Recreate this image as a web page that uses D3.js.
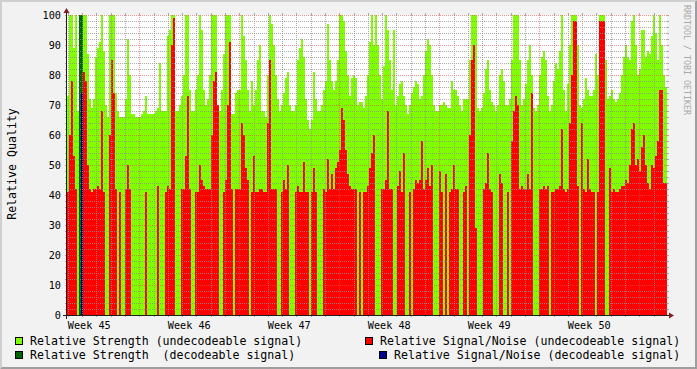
<!DOCTYPE html>
<html><head><meta charset="utf-8">
<script src="https://cdn.jsdelivr.net/npm/d3@7"></script>
<style>body{margin:0;background:#f2f2f2}svg{display:block}</style>
</head><body><svg id="c" width="697" height="369"></svg>
<script>
// ---- data (one sample every 3.36 h, six weeks) ----
const relStrengthUndec = [
73,100,100,89,100,68,99,100,100,100,
87,72,69,72,86,89,91,100,88,70,
66,100,100,100,74,68,66,66,66,72,
92,80,67,67,66,66,66,67,68,73,
67,67,67,67,68,69,84,68,68,68,
93,95,100,100,68,68,70,73,80,100,
100,75,68,68,75,80,100,95,75,70,
72,80,100,100,100,68,68,75,87,100,
100,100,67,67,74,75,75,100,93,85,
75,68,78,70,75,85,90,68,68,66,
80,100,97,90,80,72,68,70,74,79,
81,70,68,68,70,85,89,92,86,72,
65,62,65,81,72,68,68,70,75,78,
97,85,78,75,78,85,100,100,98,88,
80,73,79,80,79,70,71,71,69,73,
80,91,100,90,100,90,80,72,83,100,
95,85,75,95,70,73,77,78,73,70,
67,70,74,76,78,77,72,73,80,88,
92,90,80,70,68,68,70,70,71,70,
69,69,78,75,75,73,70,68,72,72,
72,85,100,100,100,69,68,69,74,82,
85,75,71,70,68,70,80,82,78,70,
70,72,85,100,100,100,85,70,72,77,
85,90,80,69,68,70,80,86,88,85,
73,68,70,78,84,82,88,100,75,68,
77,90,100,100,100,90,70,69,72,79,
75,73,73,75,87,80,100,100,100,85,
72,73,75,72,71,72,74,80,86,90,
86,85,98,100,90,80,82,95,95,86,
88,87,93,100,94,85,100,90,80,76
];
const relSNUndec = [
41,60,78,53,42,0,0,0,81,78,
50,42,41,42,42,43,42,68,41,0,
0,60,85,74,42,0,41,0,0,42,
50,42,0,0,0,0,0,0,0,41,
0,0,0,0,0,43,0,0,0,41,
43,42,90,99,0,0,0,42,42,53,
73,42,0,0,41,41,50,45,43,42,
42,42,60,78,81,70,0,0,41,45,
70,91,42,0,42,42,42,64,60,49,
45,0,41,53,41,41,42,42,41,41,
64,85,42,42,42,0,0,41,45,42,
50,0,0,0,41,43,41,41,51,41,
41,0,41,49,41,0,0,0,42,41,
52,42,47,42,49,51,55,69,65,55,
47,43,42,42,42,0,41,0,41,41,
43,49,54,60,0,0,0,42,42,45,
68,42,42,0,0,43,48,41,54,0,
0,41,0,42,45,44,45,58,42,45,
49,43,50,0,0,0,48,41,0,47,
0,41,42,50,42,42,0,0,41,43,
0,60,85,90,29,0,0,0,42,44,
54,42,41,0,0,0,47,44,0,0,
41,0,58,68,73,70,42,43,42,42,
47,42,74,0,0,0,42,42,43,42,
43,0,41,41,42,42,43,62,42,41,
42,64,80,98,98,43,0,64,42,41,
52,42,41,41,0,41,98,98,98,0,
0,49,41,42,41,41,42,43,43,45,
44,50,62,64,50,52,48,56,60,50,
44,42,50,49,53,58,75,75,44,44
];
const decStrengthIndex = [6, 7];
const decStrengthValue = [100, 100];
const decSNIndex = [7];
const decSNValue = [74];
const yTickValues = [0,10,20,30,40,50,60,70,80,90,100];
const legendLabels = [
  "Relative Strength (undecodeable signal)",
  "Relative Signal/Noise (undecodeable signal)",
  "Relative Strength  (decodeable signal)",
  "Relative Signal/Noise (decodeable signal)"
];
const seriesColors = ["#80ff00", "#ff0000", "#006400", "#00008b"];

// ---- layout ----
const W = 697, H = 369, X0 = 67, X1 = 667, Y0 = 315, Y1 = 15;
const FONT = "'DejaVu Sans Mono', monospace";
const DAY = 864e5, t0 = Date.UTC(2008, 10, 4, 22, 33), span = 42 * DAY;
const n = relStrengthUndec.length, step = span / n;
const tEnd = new Date(t0 + span);
const x = d3.scaleUtc().domain([new Date(t0), tEnd]).range([X0, X1]);
const y = d3.scaleLinear().domain([0, 100]).range([Y0, Y1]);
const svg = d3.select("#c");

// background + bevel
svg.append("rect").attr("width", W).attr("height", H).attr("fill", "#f2f2f2");
svg.append("polygon").attr("points", `0,0 ${W},0 ${W-2},2 2,2 2,${H-2} 0,${H}`).attr("fill", "#cfcfcf");
svg.append("polygon").attr("points", `${W},0 ${W},${H} 0,${H} 2,${H-2} ${W-2},${H-2} ${W-2},2`).attr("fill", "#9e9e9e");
svg.append("rect").attr("x", X0).attr("y", Y1).attr("width", X1 - X0).attr("height", Y0 - Y1).attr("fill", "#fff");

// data
const gData = svg.append("g").attr("shape-rendering", "crispEdges");
function bars(idx, vals, color) {
  const pts = idx.map((k, j) => ({k, v: vals[j]})).filter(d => d.v > 0);
  gData.append("g").selectAll("rect").data(pts).join("rect")
    .attr("x", d => x(new Date(t0 + d.k * step)))
    .attr("width", d => x(new Date(t0 + (d.k + 1) * step)) - x(new Date(t0 + d.k * step)))
    .attr("y", d => Math.round(y(d.v)))
    .attr("height", d => Y0 - Math.round(y(d.v)))
    .attr("fill", color);
}
const allIdx = d3.range(n);
bars(allIdx, relStrengthUndec, seriesColors[0]);
bars(allIdx, relSNUndec, seriesColors[1]);
bars(decStrengthIndex, decStrengthValue, seriesColors[2]);
bars(decSNIndex, decSNValue, seriesColors[3]);

// grid
const GRID = "rgba(143,143,143,0.75)", MGRID = "rgba(222,79,79,0.6)";
const gGrid = svg.append("g").attr("shape-rendering", "crispEdges");
d3.range(0, 101, 2).forEach(v => {
  const yy = Math.round(y(v)) + 0.5, c = v % 10 === 0 ? MGRID : GRID;
  if (v === 0) return;
  gGrid.append("line").attr("x1", X0 - 2).attr("x2", X0).attr("y1", yy).attr("y2", yy).attr("stroke", c);
  gGrid.append("line").attr("x1", X1).attr("x2", X1 + 2).attr("y1", yy).attr("y2", yy).attr("stroke", c);
  gGrid.append("line").attr("x1", X0 - 1).attr("x2", X1 + 1).attr("y1", yy).attr("y2", yy)
    .attr("stroke", c).attr("stroke-dasharray", "1,1");
});
const days = d3.utcDay.range(new Date(t0), tEnd);
days.forEach(d => {
  const isMajor = d.getUTCDay() === 1, c = isMajor ? MGRID : GRID;
  const xx = Math.round(x(d)) + 0.5;
  gGrid.append("line").attr("x1", xx).attr("x2", xx).attr("y1", Y0).attr("y2", Y0 + 2).attr("stroke", c);
  gGrid.append("line").attr("x1", xx).attr("x2", xx).attr("y1", Y1 - 2).attr("y2", Y1).attr("stroke", c);
  gGrid.append("line").attr("x1", xx).attr("x2", xx).attr("y1", Y0 + 1).attr("y2", Y1 - 1)
    .attr("stroke", c).attr("stroke-dasharray", "1,1");
});

// axes
const AXIS = "#1f1f1f", ARROW = "#801f1f";
svg.append("line").attr("x1", X0 - 4).attr("x2", X1 + 4).attr("y1", Y0 + 0.5).attr("y2", Y0 + 0.5).attr("stroke", AXIS).attr("shape-rendering", "crispEdges");
svg.append("line").attr("x1", X0 - 0.5).attr("x2", X0 - 0.5).attr("y1", Y0 + 4).attr("y2", Y1 - 4).attr("stroke", AXIS).attr("shape-rendering", "crispEdges");
svg.append("polygon").attr("points", `${X1+2},${Y0-2.5} ${X1+2},${Y0+3.5} ${X1+7},${Y0+0.5}`).attr("fill", ARROW);
svg.append("polygon").attr("points", `${X0-3.5},${Y1-2} ${X0+2.5},${Y1-2} ${X0-0.5},${Y1-7}`).attr("fill", ARROW);

// y labels
svg.append("g").selectAll("text").data(yTickValues).join("text")
  .attr("x", 61).attr("y", d => y(d) + 0.5).attr("text-anchor", "end").attr("dominant-baseline", "central")
  .attr("font-family", FONT).attr("font-size", "10.2px").attr("fill", "#000").text(d => d);

// x labels: week names centred in their week
const fmt = d3.utcFormat("Week %V");
const mondays = d3.utcMonday.range(new Date(t0 - 7 * DAY), tEnd);
const weekCenters = mondays.map(m => new Date(+m + 3.5 * DAY)).filter(c => c >= x.domain()[0] && c <= tEnd);
svg.append("g").selectAll("text").data(weekCenters).join("text")
  .attr("x", d => x(d)).attr("y", 328.5).attr("text-anchor", "middle")
  .attr("font-family", FONT).attr("font-size", "10.2px").attr("fill", "#000").text(d => fmt(new Date(+d - 3.5 * DAY)));

// y title
svg.append("text").attr("transform", "translate(12,164) rotate(-90)").attr("text-anchor", "middle")
  .attr("dominant-baseline", "central").attr("font-family", FONT).attr("font-size", "11.6px").attr("fill", "#000")
  .text("Relative Quality");

// watermark
svg.append("text").attr("transform", "translate(687,5) rotate(90)").attr("dominant-baseline", "central")
  .attr("font-family", FONT).attr("font-size", "8.3px").attr("fill", "#a8a8a8").text("RRDTOOL / TOBI OETIKER");

// legend
const legendPos = [[15, 337, 30], [365, 337, 380], [15, 351, 30], [379, 351, 394]];
const legendOrder = [0, 1, 2, 3];
const lg = svg.append("g");
legendOrder.forEach((s, j) => {
  const [bx, by, tx] = legendPos[j];
  lg.append("rect").attr("x", bx + 0.5).attr("y", by + 0.5).attr("width", 7).attr("height", 7)
    .attr("fill", seriesColors[s]).attr("stroke", "#000").attr("shape-rendering", "crispEdges");
  lg.append("text").attr("x", tx).attr("y", by + 8).attr("font-family", FONT).attr("font-size", "11.6px")
    .attr("fill", "#000").attr("xml:space", "preserve").style("white-space", "pre").text(legendLabels[s]);
});
</script></body></html>
